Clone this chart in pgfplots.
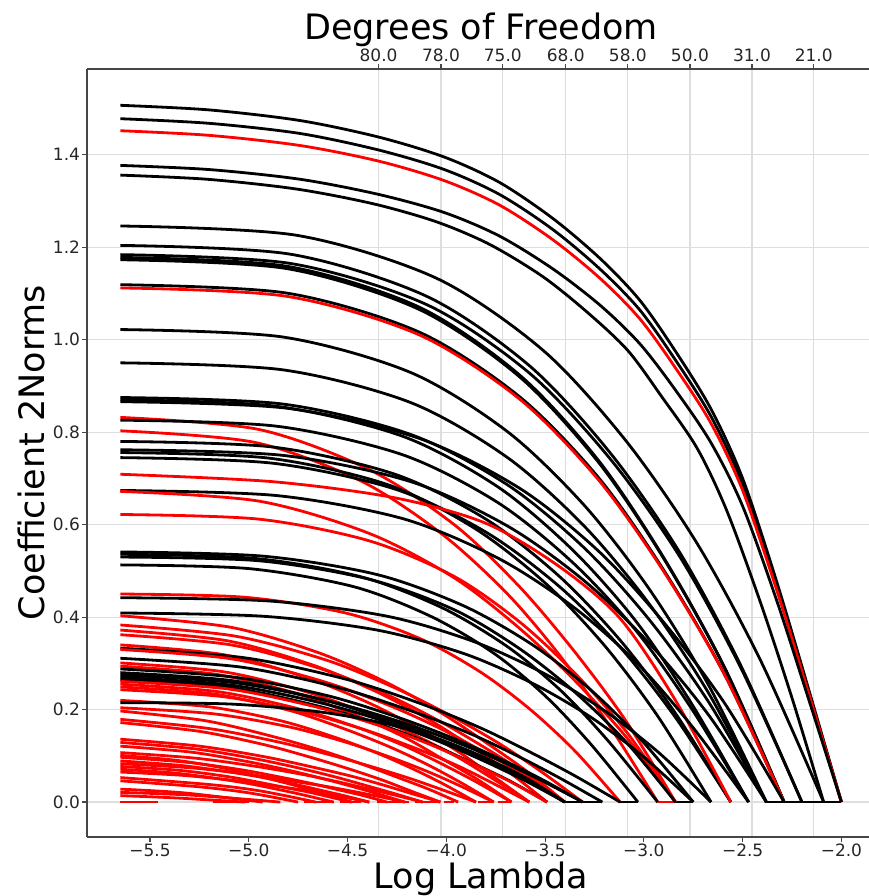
\documentclass[border=0pt]{standalone}
\usepackage{fontspec}
\setmainfont{DejaVu Sans}
\usepackage{pgfplots}
\pgfplotsset{compat=1.18}
\usetikzlibrary{calc}
\definecolor{gridgray}{RGB}{222,222,222}
\definecolor{spine}{RGB}{70,70,70}

\begin{document}
\begin{tikzpicture}
\pgfplotsset{
  common/.style={
    scale only axis, width=394pt, height=384pt,
    xmin=-5.819, xmax=-1.83, ymin=-0.0755, ymax=1.5855,
    tick align=outside, major tick length=2.5pt,
    tick style={spine, line width=0.6pt},
    grid style={gridgray, line width=0.6pt},
    tick label style={font=\fontsize{8.5}{10}\selectfont, text=black!85, inner sep=0.8pt},
    axis line style={-, spine, line width=0.7pt},
    x axis line style={-}, y axis line style={-},
  },
  blk/.style={black, line width=1.4pt, line join=round, smooth, tension=0.5},
  rd/.style={red, line width=1.4pt, line join=round, smooth, tension=0.5},
}

% top axis: degrees of freedom
\begin{axis}[common,
    axis x line*=top, hide y axis,
    xtick={-4.343,-4.027,-3.714,-3.395,-3.081,-2.767,-2.453,-2.140},
    xticklabels={80.0,78.0,75.0,68.0,58.0,50.0,31.0,21.0},
    xmajorgrids,
    every axis title shift=0pt,
    title={Degrees of Freedom},
    title style={font=\fontsize{17.5}{20}\selectfont, at={(axis description cs:0.5,1.039)}, anchor=base, inner sep=0pt},
]
\end{axis}

\begin{axis}[common,
    axis x line*=bottom, axis y line*=left,
    xtick={-5.5,-5,-4.5,-4,-3.5,-3,-2.5,-2},
    xticklabels={−5.5,−5.0,−4.5,−4.0,−3.5,−3.0,−2.5,−2.0},
    ytick={0,0.2,0.4,0.6,0.8,1.0,1.2,1.4},
    yticklabels={0.0,0.2,0.4,0.6,0.8,1.0,1.2,1.4},
    ymajorgrids,
    xlabel={Log Lambda}, ylabel={Coefficient 2Norms},
    xlabel style={font=\fontsize{17.5}{20}\selectfont, at={(axis description cs:0.5,-0.0664)}, anchor=base, inner sep=0pt},
    ylabel style={font=\fontsize{17.5}{20}\selectfont, at={(axis description cs:-0.0533,0.5)}, anchor=base, inner sep=0pt},
]
\coordinate (LL) at (rel axis cs:0,0);

% flat pieces on the zero line
\addplot[red, line width=1.4pt, unbounded coords=jump] coordinates {
  (-5.65,0)(-5.46,0) (-5.3,nan) (-5.18,0)(-5.00,0) (-4.9,nan) (-4.72,0)(-4.57,0) (-4.56,nan)
  (-4.54,0)(-4.43,0) (-4.4,nan) (-4.35,0)(-4.19,0) (-4.18,nan) (-4.16,0)(-4.03,0) (-4.02,nan)
  (-4.01,0)(-3.96,0) (-3.9,nan) (-3.84,0)(-3.77,0) (-3.76,nan) (-3.74,0)(-3.68,0) (-3.5,nan)
  (-3.40,0)(-3.31,0) (-3.1,nan) (-2.93,0)(-2.84,0) (-2.5,nan) (-2.29,0)(-2.20,0)};
\addplot[black, line width=1.4pt, unbounded coords=jump] coordinates {
  (-3.40,0)(-3.21,0) (-3.15,nan) (-3.12,0)(-3.03,0) (-2.9,nan) (-2.84,0)(-2.75,0) (-2.5,nan)
  (-2.38,0)(-2.00,0)};

\addplot[blk] coordinates {(-5.65,1.507)(-5.20,1.497)(-4.74,1.474)(-4.34,1.438)(-4.01,1.395)(-3.73,1.340)(-3.46,1.262)(-3.22,1.175)(-3.02,1.085)(-2.84,0.975)(-2.66,0.850)(-2.50,0.700)(-2.33,0.480)(-2.17,0.250)(-2.00,0)};
\addplot[blk] coordinates {(-5.65,1.478)(-5.20,1.468)(-4.74,1.446)(-4.34,1.410)(-4.01,1.368)(-3.73,1.314)(-3.46,1.238)(-3.22,1.152)(-3.02,1.064)(-2.84,0.956)(-2.66,0.834)(-2.50,0.687)(-2.33,0.471)(-2.17,0.245)(-2.00,0)};
\addplot[rd] coordinates {(-5.65,1.452)(-5.20,1.442)(-4.74,1.420)(-4.34,1.386)(-4.01,1.344)(-3.73,1.291)(-3.46,1.216)(-3.22,1.132)(-3.02,1.045)(-2.84,0.939)(-2.66,0.819)(-2.50,0.674)(-2.33,0.462)(-2.17,0.241)(-2.00,0)};
\addplot[blk] coordinates {(-5.65,1.377)(-5.20,1.368)(-4.74,1.347)(-4.34,1.314)(-4.01,1.275)(-3.73,1.224)(-3.46,1.153)(-3.22,1.074)(-3.02,0.991)(-2.84,0.891)(-2.66,0.777)(-2.50,0.640)(-2.33,0.439)(-2.17,0.228)(-2.00,0)};
\addplot[blk] coordinates {(-5.65,1.356)(-5.21,1.347)(-4.76,1.326)(-4.37,1.294)(-4.05,1.255)(-3.78,1.206)(-3.51,1.136)(-3.28,1.057)(-3.08,0.976)(-2.91,0.877)(-2.73,0.765)(-2.58,0.630)(-2.41,0.432)(-2.25,0.225)(-2.09,0)};
\addplot[blk] coordinates {(-5.65,1.246)(-4.76,1.226)(-4.05,1.133)(-3.51,0.977)(-3.09,0.781)(-2.73,0.559)(-2.41,0.307)(-2.09,0)};
\addplot[blk] coordinates {(-5.65,1.204)(-4.79,1.185)(-4.10,1.094)(-3.58,0.944)(-3.17,0.755)(-2.82,0.541)(-2.51,0.296)(-2.20,0)};
\addplot[blk] coordinates {(-5.65,1.184)(-4.79,1.165)(-4.10,1.076)(-3.58,0.928)(-3.17,0.742)(-2.82,0.532)(-2.51,0.291)(-2.20,0)};
\addplot[blk] coordinates {(-5.65,1.178)(-4.81,1.159)(-4.14,1.071)(-3.63,0.924)(-3.23,0.739)(-2.90,0.529)(-2.59,0.290)(-2.29,0)};
\addplot[blk] coordinates {(-5.65,1.173)(-4.81,1.154)(-4.14,1.066)(-3.63,0.920)(-3.23,0.735)(-2.90,0.527)(-2.59,0.289)(-2.29,0)};
\addplot[blk] coordinates {(-5.65,1.119)(-4.81,1.101)(-4.14,1.017)(-3.63,0.877)(-3.23,0.702)(-2.90,0.502)(-2.59,0.275)(-2.29,0)};
\addplot[rd] coordinates {(-5.65,1.112)(-4.81,1.094)(-4.14,1.011)(-3.63,0.872)(-3.23,0.697)(-2.90,0.499)(-2.59,0.274)(-2.29,0)};
\addplot[blk] coordinates {(-5.65,1.022)(-4.83,1.006)(-4.18,0.929)(-3.69,0.801)(-3.30,0.641)(-2.97,0.459)(-2.67,0.251)(-2.38,0)};
\addplot[blk] coordinates {(-5.65,0.950)(-4.83,0.935)(-4.18,0.864)(-3.69,0.745)(-3.30,0.596)(-2.97,0.427)(-2.67,0.234)(-2.38,0)};
\addplot[blk] coordinates {(-5.65,0.875)(-4.83,0.861)(-4.18,0.795)(-3.69,0.686)(-3.30,0.549)(-2.97,0.393)(-2.67,0.215)(-2.38,0)};
\addplot[blk] coordinates {(-5.65,0.870)(-4.86,0.856)(-4.22,0.791)(-3.74,0.682)(-3.36,0.545)(-3.04,0.391)(-2.76,0.214)(-2.47,0)};
\addplot[blk] coordinates {(-5.65,0.866)(-4.81,0.852)(-4.14,0.787)(-3.63,0.679)(-3.23,0.543)(-2.90,0.389)(-2.59,0.213)(-2.29,0)};
\addplot[rd] coordinates {(-5.65,0.832)(-4.95,0.806)(-4.39,0.719)(-3.96,0.600)(-3.63,0.466)(-3.35,0.325)(-3.09,0.175)(-2.84,0)};
\addplot[blk] coordinates {(-5.65,0.826)(-4.86,0.813)(-4.22,0.751)(-3.74,0.648)(-3.36,0.518)(-3.04,0.371)(-2.76,0.203)(-2.47,0)};
\addplot[rd] coordinates {(-5.65,0.803)(-4.97,0.778)(-4.43,0.694)(-4.02,0.579)(-3.69,0.450)(-3.42,0.314)(-3.18,0.169)(-2.93,0)};
\addplot[blk] coordinates {(-5.65,0.780)(-4.88,0.768)(-4.26,0.709)(-3.80,0.612)(-3.43,0.489)(-3.12,0.350)(-2.84,0.192)(-2.56,0)};
\addplot[blk] coordinates {(-5.65,0.762)(-4.83,0.750)(-4.18,0.693)(-3.69,0.597)(-3.30,0.478)(-2.97,0.342)(-2.67,0.187)(-2.38,0)};
\addplot[blk] coordinates {(-5.65,0.756)(-4.90,0.744)(-4.30,0.687)(-3.86,0.593)(-3.50,0.474)(-3.20,0.339)(-2.93,0.186)(-2.66,0)};
\addplot[blk] coordinates {(-5.65,0.745)(-4.88,0.733)(-4.26,0.677)(-3.80,0.584)(-3.43,0.467)(-3.12,0.335)(-2.84,0.183)(-2.56,0)};
\addplot[rd] coordinates {(-5.65,0.709)(-4.88,0.693)(-4.26,0.658)(-3.80,0.603)(-3.43,0.510)(-3.12,0.397)(-2.84,0.220)(-2.56,0)};
\addplot[blk] coordinates {(-5.65,0.674)(-4.86,0.663)(-4.22,0.613)(-3.74,0.528)(-3.36,0.423)(-3.04,0.303)(-2.76,0.166)(-2.47,0)};
\addplot[rd] coordinates {(-5.65,0.672)(-4.95,0.651)(-4.39,0.581)(-3.96,0.485)(-3.63,0.376)(-3.35,0.263)(-3.09,0.141)(-2.84,0)};
\addplot[rd] coordinates {(-5.65,0.622)(-4.95,0.612)(-4.39,0.565)(-3.96,0.488)(-3.63,0.390)(-3.35,0.279)(-3.09,0.153)(-2.84,0)};
\addplot[blk] coordinates {(-5.65,0.541)(-4.93,0.532)(-4.35,0.492)(-3.91,0.424)(-3.56,0.339)(-3.27,0.243)(-3.01,0.133)(-2.75,0)};
\addplot[blk] coordinates {(-5.65,0.536)(-4.97,0.527)(-4.43,0.487)(-4.02,0.420)(-3.69,0.336)(-3.42,0.241)(-3.18,0.132)(-2.93,0)};
\addplot[blk] coordinates {(-5.65,0.530)(-4.95,0.522)(-4.39,0.482)(-3.96,0.416)(-3.63,0.332)(-3.35,0.238)(-3.09,0.130)(-2.84,0)};
\addplot[blk] coordinates {(-5.65,0.513)(-5.00,0.505)(-4.47,0.466)(-4.08,0.402)(-3.76,0.322)(-3.50,0.230)(-3.27,0.126)(-3.03,0)};
\addplot[rd] coordinates {(-5.65,0.450)(-5.02,0.443)(-4.51,0.409)(-4.13,0.353)(-3.83,0.282)(-3.58,0.202)(-3.35,0.111)(-3.12,0)};
\addplot[blk] coordinates {(-5.65,0.442)(-4.90,0.435)(-4.30,0.402)(-3.86,0.347)(-3.50,0.277)(-3.20,0.198)(-2.93,0.109)(-2.66,0)};
\addplot[blk] coordinates {(-5.65,0.409)(-4.93,0.402)(-4.35,0.372)(-3.91,0.321)(-3.56,0.256)(-3.27,0.184)(-3.01,0.101)(-2.75,0)};
\addplot[rd] coordinates {(-5.65,0.403)(-5.09,0.378)(-4.64,0.322)(-4.30,0.258)(-4.03,0.194)(-3.81,0.132)(-3.60,0.069)(-3.40,0)};
\addplot[rd] coordinates {(-5.65,0.383)(-5.07,0.359)(-4.60,0.306)(-4.25,0.245)(-3.97,0.185)(-3.73,0.126)(-3.52,0.066)(-3.31,0)};
\addplot[rd] coordinates {(-5.65,0.372)(-5.11,0.349)(-4.68,0.297)(-4.35,0.238)(-4.09,0.179)(-3.88,0.122)(-3.68,0.064)(-3.49,0)};
\addplot[rd] coordinates {(-5.65,0.362)(-5.09,0.340)(-4.64,0.289)(-4.30,0.232)(-4.03,0.174)(-3.81,0.119)(-3.60,0.062)(-3.40,0)};
\addplot[rd] coordinates {(-5.65,0.340)(-5.13,0.319)(-4.72,0.271)(-4.41,0.218)(-4.16,0.164)(-3.95,0.112)(-3.77,0.058)(-3.58,0)};
\addplot[blk] coordinates {(-5.65,0.333)(-5.02,0.312)(-4.51,0.266)(-4.13,0.213)(-3.83,0.161)(-3.58,0.109)(-3.35,0.057)(-3.12,0)};
\addplot[rd] coordinates {(-5.65,0.330)(-5.09,0.310)(-4.64,0.263)(-4.30,0.211)(-4.03,0.159)(-3.81,0.108)(-3.60,0.057)(-3.40,0)};
\addplot[blk] coordinates {(-5.65,0.311)(-5.04,0.292)(-4.55,0.248)(-4.19,0.199)(-3.89,0.150)(-3.65,0.102)(-3.43,0.053)(-3.21,0)};
\addplot[rd] coordinates {(-5.65,0.301)(-5.13,0.282)(-4.72,0.240)(-4.41,0.193)(-4.16,0.145)(-3.95,0.099)(-3.77,0.052)(-3.58,0)};
\addplot[rd] coordinates {(-5.65,0.294)(-5.16,0.276)(-4.76,0.235)(-4.46,0.188)(-4.22,0.142)(-4.03,0.096)(-3.85,0.051)(-3.67,0)};
\addplot[blk] coordinates {(-5.65,0.288)(-5.07,0.270)(-4.60,0.230)(-4.25,0.184)(-3.97,0.139)(-3.73,0.094)(-3.52,0.050)(-3.31,0)};
\addplot[blk] coordinates {(-5.65,0.280)(-5.09,0.263)(-4.64,0.223)(-4.30,0.179)(-4.03,0.135)(-3.81,0.092)(-3.60,0.048)(-3.40,0)};
\addplot[blk] coordinates {(-5.65,0.275)(-5.07,0.258)(-4.60,0.219)(-4.25,0.176)(-3.97,0.133)(-3.73,0.090)(-3.52,0.047)(-3.31,0)};
\addplot[blk] coordinates {(-5.65,0.270)(-5.09,0.253)(-4.64,0.215)(-4.30,0.173)(-4.03,0.130)(-3.81,0.089)(-3.60,0.046)(-3.40,0)};
\addplot[blk] coordinates {(-5.65,0.265)(-5.11,0.249)(-4.68,0.211)(-4.35,0.170)(-4.09,0.128)(-3.88,0.087)(-3.68,0.046)(-3.49,0)};
\addplot[rd] coordinates {(-5.65,0.261)(-5.11,0.245)(-4.68,0.208)(-4.35,0.167)(-4.09,0.126)(-3.88,0.086)(-3.68,0.045)(-3.49,0)};
\addplot[rd] coordinates {(-5.65,0.255)(-5.16,0.239)(-4.76,0.203)(-4.46,0.163)(-4.22,0.123)(-4.03,0.084)(-3.85,0.044)(-3.67,0)};
\addplot[rd] coordinates {(-5.65,0.249)(-5.18,0.234)(-4.80,0.199)(-4.52,0.159)(-4.29,0.120)(-4.10,0.082)(-3.93,0.043)(-3.76,0)};
\addplot[rd] coordinates {(-5.65,0.243)(-5.13,0.228)(-4.72,0.194)(-4.41,0.156)(-4.16,0.117)(-3.95,0.080)(-3.77,0.042)(-3.58,0)};
\addplot[rd] coordinates {(-5.65,0.220)(-5.20,0.206)(-4.84,0.176)(-4.57,0.141)(-4.35,0.106)(-4.17,0.072)(-4.01,0.038)(-3.85,0)};
\addplot[blk] coordinates {(-5.65,0.215)(-5.09,0.212)(-4.64,0.195)(-4.30,0.169)(-4.03,0.135)(-3.81,0.097)(-3.60,0.053)(-3.40,0)};
\addplot[rd] coordinates {(-5.65,0.204)(-5.18,0.191)(-4.80,0.163)(-4.52,0.131)(-4.29,0.098)(-4.10,0.067)(-3.93,0.035)(-3.76,0)};
\addplot[rd] coordinates {(-5.65,0.197)(-5.22,0.176)(-4.88,0.142)(-4.62,0.110)(-4.42,0.081)(-4.25,0.054)(-4.09,0.028)(-3.94,0)};
\addplot[rd] coordinates {(-5.65,0.179)(-5.20,0.159)(-4.84,0.129)(-4.57,0.100)(-4.35,0.073)(-4.17,0.049)(-4.01,0.025)(-3.85,0)};
\addplot[rd] coordinates {(-5.65,0.172)(-5.25,0.153)(-4.92,0.124)(-4.68,0.096)(-4.48,0.070)(-4.32,0.047)(-4.18,0.024)(-4.03,0)};
\addplot[rd] coordinates {(-5.65,0.136)(-5.25,0.121)(-4.92,0.098)(-4.68,0.076)(-4.48,0.056)(-4.32,0.037)(-4.18,0.019)(-4.03,0)};
\addplot[rd] coordinates {(-5.65,0.129)(-5.27,0.115)(-4.96,0.093)(-4.73,0.072)(-4.55,0.053)(-4.40,0.035)(-4.26,0.018)(-4.12,0)};
\addplot[rd] coordinates {(-5.65,0.121)(-5.29,0.108)(-5.00,0.087)(-4.79,0.068)(-4.61,0.049)(-4.47,0.033)(-4.34,0.017)(-4.21,0)};
\addplot[rd] coordinates {(-5.65,0.107)(-5.27,0.095)(-4.96,0.077)(-4.73,0.060)(-4.55,0.044)(-4.40,0.029)(-4.26,0.015)(-4.12,0)};
\addplot[rd] coordinates {(-5.65,0.101)(-5.36,0.090)(-5.12,0.073)(-4.95,0.056)(-4.81,0.041)(-4.69,0.027)(-4.59,0.014)(-4.48,0)};
\addplot[rd] coordinates {(-5.65,0.097)(-5.31,0.086)(-5.04,0.070)(-4.84,0.054)(-4.68,0.040)(-4.54,0.026)(-4.42,0.014)(-4.30,0)};
\addplot[rd] coordinates {(-5.65,0.089)(-5.34,0.079)(-5.08,0.064)(-4.89,0.050)(-4.74,0.036)(-4.62,0.024)(-4.50,0.012)(-4.39,0)};
\addplot[rd] coordinates {(-5.65,0.083)(-5.29,0.074)(-5.00,0.060)(-4.79,0.046)(-4.61,0.034)(-4.47,0.023)(-4.34,0.012)(-4.21,0)};
\addplot[rd] coordinates {(-5.65,0.077)(-5.36,0.069)(-5.12,0.056)(-4.95,0.043)(-4.81,0.031)(-4.69,0.021)(-4.59,0.011)(-4.48,0)};
\addplot[rd] coordinates {(-5.65,0.071)(-5.38,0.063)(-5.16,0.051)(-5.00,0.040)(-4.87,0.029)(-4.76,0.019)(-4.67,0.010)(-4.57,0)};
\addplot[rd] coordinates {(-5.65,0.065)(-5.34,0.058)(-5.08,0.047)(-4.89,0.036)(-4.74,0.027)(-4.62,0.018)(-4.50,0.009)(-4.39,0)};
\addplot[rd] coordinates {(-5.65,0.053)(-5.20,0.038)(-4.94,0.024)(-4.66,0)};
\addplot[rd] coordinates {(-5.65,0.046)(-5.25,0.033)(-5.00,0.020)(-4.75,0)};
\addplot[rd] coordinates {(-5.65,0.028)(-5.33,0.020)(-4.93,0)};
\addplot[rd] coordinates {(-5.65,0.021)(-5.29,0.015)(-4.84,0)};
\addplot[rd] coordinates {(-5.65,0.014)(-5.37,0.009)(-5.02,0)};
\end{axis}

\pgfresetboundingbox
\path[use as bounding box] ($(LL)+(-43.5pt,-29.5pt)$) rectangle ($(LL)+(391pt,418.5pt)$);
\end{tikzpicture}
\end{document}
